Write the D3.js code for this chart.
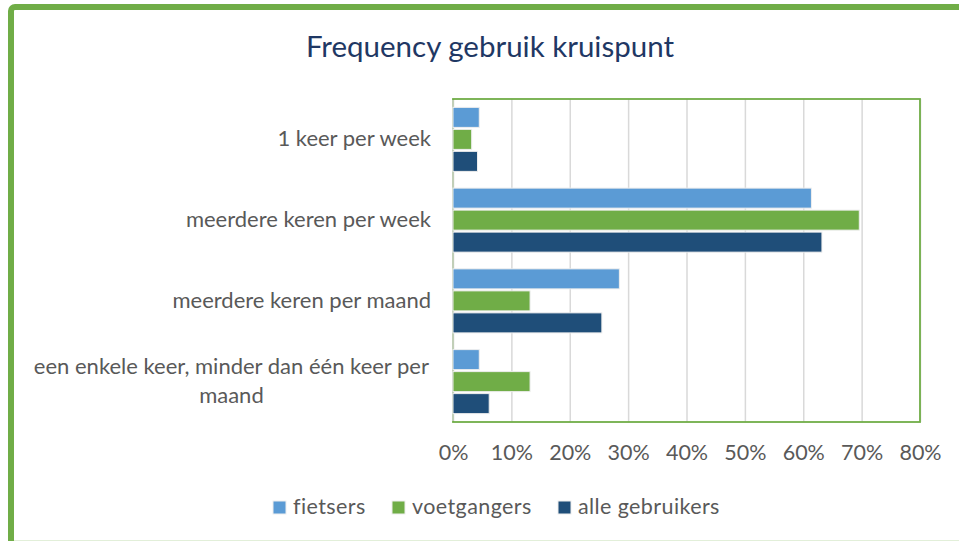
<!DOCTYPE html>
<html>
<head>
<meta charset="utf-8">
<script src="https://cdn.jsdelivr.net/npm/d3@7"></script>
<style>
  body { margin: 0; background: #fff; }
  text { font-family: Lato, "Open Sans", sans-serif; }
</style>
</head>
<body>
<svg id="chart" width="959" height="541"></svg>
<script>
// data
const categories = [
  "1 keer per week",
  "meerdere keren per week",
  "meerdere keren per maand",
  "een enkele keer, minder dan één keer per maand"
];
const seriesNames = ["fietsers", "voetgangers", "alle gebruikers"];
const fietsers = [0.045, 0.614, 0.285, 0.045];
const voetgangers = [0.032, 0.696, 0.132, 0.132];
const alleGebruikers = [0.042, 0.632, 0.255, 0.062];
const xTicks = [0, 0.1, 0.2, 0.3, 0.4, 0.5, 0.6, 0.7, 0.8];
const title = "Frequency gebruik kruispunt";

const colors = ["#5b9bd5", "#70ad47", "#1f4e79"];
const seriesValues = [fietsers, voetgangers, alleGebruikers];

const svg = d3.select("#chart");
const margin = { top: 99, right: 39, bottom: 119, left: 453 };
const width = 959, height = 541;

// outer chart frame (runs off the right/bottom of the picture)
svg.append("rect")
  .attr("x", 11).attr("y", 7)
  .attr("width", 980).attr("height", 540)
  .attr("rx", 4)
  .attr("fill", "#fff")
  .attr("stroke", "#70ad47")
  .attr("stroke-width", 6);
svg.append("line")
  .attr("x1", 14).attr("x2", 959)
  .attr("y1", 540.5).attr("y2", 540.5)
  .attr("stroke", "#e2efd9").attr("stroke-width", 1);

svg.append("text")
  .attr("x", 490).attr("y", 57)
  .attr("text-anchor", "middle")
  .attr("fill", "#1f3864")
  .attr("font-size", 29.5)
  .text(title);

const x = d3.scaleLinear().domain([0, 0.8]).range([margin.left, width - margin.right]);
const y = d3.scaleBand().domain(categories).range([margin.top, height - margin.bottom]);
const ySub = d3.scaleBand().domain(seriesNames).range([0, y.bandwidth()])
  .paddingInner(0.09).paddingOuter(0.38);

// gridlines
const grid = d3.axisBottom(x).tickValues(xTicks)
  .tickSize(-(height - margin.bottom - margin.top)).tickFormat("");
svg.append("g")
  .attr("transform", `translate(0,${height - margin.bottom})`)
  .call(grid)
  .call(g => g.select(".domain").remove())
  .call(g => g.selectAll("line").attr("stroke", "#d9d9d9").attr("stroke-width", 1.5));

// plot area border
svg.append("rect")
  .attr("x", margin.left).attr("y", margin.top)
  .attr("width", x(0.8) - x(0)).attr("height", height - margin.bottom - margin.top)
  .attr("fill", "none")
  .attr("stroke", "#70ad47").attr("stroke-width", 1.8);
svg.append("line")
  .attr("x1", x(0)).attr("x2", x(0))
  .attr("y1", margin.top + 1).attr("y2", height - margin.bottom - 1)
  .attr("stroke", "#d9d9d9").attr("stroke-width", 1.5);

// bars
const groups = svg.append("g").selectAll("g")
  .data(categories)
  .join("g")
  .attr("transform", d => `translate(0,${y(d)})`);

groups.selectAll("rect")
  .data((c, i) => seriesNames.map((s, k) => ({ s, k, v: seriesValues[k][i] })))
  .join("rect")
  .attr("x", x(0))
  .attr("y", d => ySub(d.s))
  .attr("width", d => x(d.v) - x(0))
  .attr("height", ySub.bandwidth())
  .attr("fill", d => colors[d.k])
  .attr("stroke", "#eeeeee")
  .attr("stroke-width", 1);

// x tick labels
svg.append("g")
  .attr("transform", `translate(0,${height - margin.bottom})`)
  .call(d3.axisBottom(x).tickValues(xTicks).tickFormat(d3.format(".0%")).tickSize(0).tickPadding(23))
  .call(g => g.select(".domain").remove())
  .call(g => g.selectAll("text")
    .attr("fill", "#595959")
    .attr("font-size", 21.5)
    .attr("font-family", "Lato, sans-serif"));

// category labels, wrapped like Excel does
const labelRight = 431, maxLabelWidth = 412, lineHeight = 29;
const yLabels = svg.append("g");
categories.forEach(c => {
  const t = yLabels.append("text")
    .attr("fill", "#595959")
    .attr("font-size", 22);
  const words = c.split(" ");
  const lines = [];
  let line = [];
  const probe = t.append("tspan");
  words.forEach(w => {
    const tryLine = line.concat(w).join(" ");
    probe.text(tryLine);
    if (probe.node().getComputedTextLength() > maxLabelWidth && line.length) {
      lines.push(line.join(" "));
      line = [w];
    } else {
      line.push(w);
    }
  });
  lines.push(line.join(" "));
  probe.remove();

  const cy = y(c) + y.bandwidth() / 2;
  if (lines.length === 1) {
    t.attr("text-anchor", "end").attr("x", labelRight).attr("y", cy + 7).text(lines[0]);
  } else {
    // multi-line: block right aligned, lines centered within it
    const tmp = t.append("tspan").text(lines[0]);
    const w0 = tmp.node().getComputedTextLength();
    tmp.remove();
    const mid = labelRight - 2 - w0 / 2;
    t.attr("text-anchor", "middle");
    lines.forEach((ln, i) => {
      t.append("tspan")
        .attr("x", mid)
        .attr("y", cy + 7 + (i - (lines.length - 1) / 2) * lineHeight)
        .text(ln);
    });
  }
});

// legend
const legendX = [273, 392, 558];
const legend = svg.append("g").selectAll("g")
  .data(seriesNames)
  .join("g")
  .attr("transform", (d, i) => `translate(${legendX[i]},501)`);
legend.append("rect")
  .attr("width", 13).attr("height", 13)
  .attr("fill", (d, i) => colors[i])
  .attr("stroke", "#eeeeee").attr("stroke-width", 1);
legend.append("text")
  .attr("x", 20).attr("y", 13)
  .attr("fill", "#595959")
  .attr("font-size", 21.5)
  .attr("letter-spacing", 0.4)
  .text(d => d);
</script>
</body>
</html>
